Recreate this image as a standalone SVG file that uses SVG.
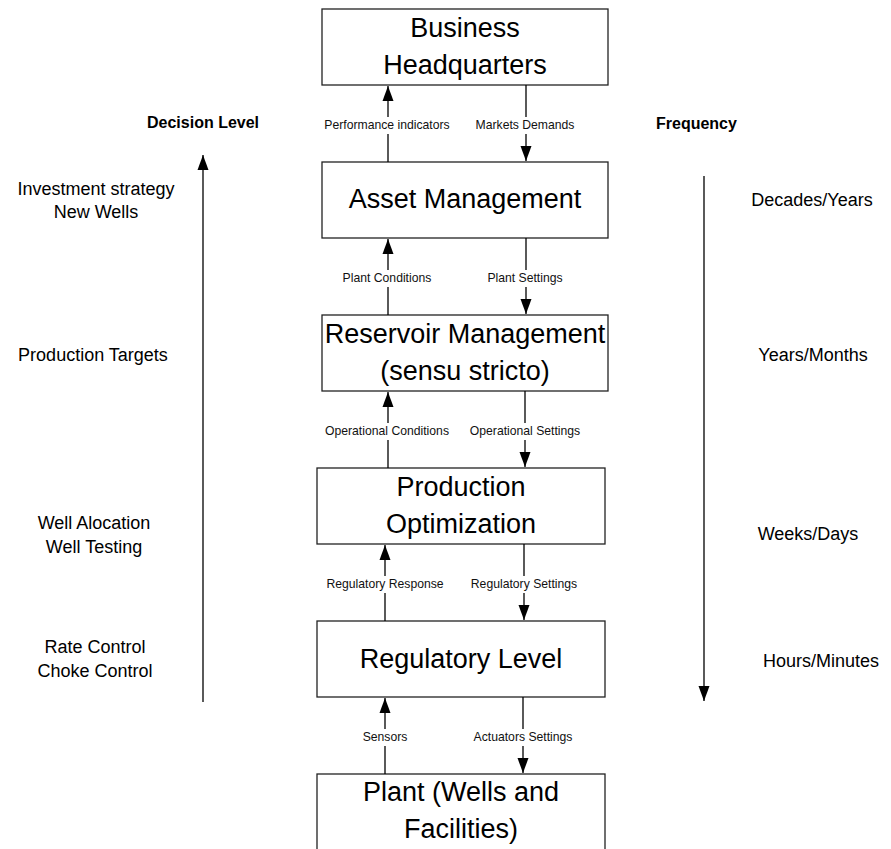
<svg xmlns="http://www.w3.org/2000/svg" width="891" height="849" viewBox="0 0 891 849">
  <defs>
    <marker id="head" markerUnits="userSpaceOnUse" markerWidth="15" markerHeight="12" refX="15" refY="6" orient="auto">
      <path d="M0,0.5 L15,6 L0,11.5 z" fill="#000"/>
    </marker>
    <style>
      .box { fill: #fff; stroke: #222; stroke-width: 1.3; }
      .big { font-family: "Liberation Sans", Arial, sans-serif; font-size: 27px; fill: #000; text-anchor: middle; }
      .lbl { font-family: "Liberation Sans", Arial, sans-serif; font-size: 12.2px; fill: #111; text-anchor: middle; }
      .side { font-family: "Liberation Sans", Arial, sans-serif; font-size: 18px; fill: #000; text-anchor: middle; }
      .head { font-family: "Liberation Sans", Arial, sans-serif; font-size: 16px; font-weight: bold; fill: #000; }
      .wire { stroke: #000; stroke-width: 1.3; fill: none; }
      .arw { stroke: #000; stroke-width: 1.3; fill: none; marker-end: url(#head); }
    </style>
  </defs>

  <rect width="891" height="849" fill="#fff"/>

  <!-- level boxes -->
  <g id="hq">
    <rect class="box" x="322" y="9" width="286" height="76"/>
    <text class="big" x="465" y="37">Business</text>
    <text class="big" x="465" y="74">Headquarters</text>
  </g>
  <g id="asset">
    <rect class="box" x="322" y="162" width="286" height="76"/>
    <text class="big" x="465" y="208">Asset Management</text>
  </g>
  <g id="reservoir">
    <rect class="box" x="322" y="315" width="286" height="76"/>
    <text class="big" x="465" y="343">Reservoir Management</text>
    <text class="big" x="465" y="380">(sensu stricto)</text>
  </g>
  <g id="production">
    <rect class="box" x="317" y="468" width="288" height="76"/>
    <text class="big" x="461" y="496">Production</text>
    <text class="big" x="461" y="533">Optimization</text>
  </g>
  <g id="regulatory">
    <rect class="box" x="317" y="621" width="288" height="76"/>
    <text class="big" x="461" y="668">Regulatory Level</text>
  </g>
  <g id="plant">
    <rect class="box" x="317" y="774" width="288" height="90"/>
    <text class="big" x="461" y="801">Plant (Wells and</text>
    <text class="big" x="461" y="838">Facilities)</text>
  </g>

  <!-- connectors between levels -->
  <g id="connectors">
    <line class="arw" x1="388" y1="117" x2="388" y2="86"/>
    <line class="wire" x1="388" y1="134" x2="388" y2="162"/>
    <line class="wire" x1="526" y1="85" x2="526" y2="117"/>
    <line class="arw" x1="526" y1="134" x2="526" y2="161"/>

    <line class="arw" x1="388" y1="270" x2="388" y2="239"/>
    <line class="wire" x1="388" y1="287" x2="388" y2="315"/>
    <line class="wire" x1="526" y1="238" x2="526" y2="270"/>
    <line class="arw" x1="526" y1="287" x2="526" y2="314"/>

    <line class="arw" x1="388" y1="423" x2="388" y2="392"/>
    <line class="wire" x1="388" y1="440" x2="388" y2="468"/>
    <line class="wire" x1="525" y1="391" x2="525" y2="423"/>
    <line class="arw" x1="525" y1="440" x2="525" y2="467"/>

    <line class="arw" x1="385" y1="576" x2="385" y2="545"/>
    <line class="wire" x1="385" y1="593" x2="385" y2="621"/>
    <line class="wire" x1="524" y1="544" x2="524" y2="576"/>
    <line class="arw" x1="524" y1="593" x2="524" y2="620"/>

    <line class="arw" x1="385" y1="729" x2="385" y2="698"/>
    <line class="wire" x1="385" y1="746" x2="385" y2="774"/>
    <line class="wire" x1="523" y1="697" x2="523" y2="729"/>
    <line class="arw" x1="523" y1="746" x2="523" y2="773"/>

    <!-- side axes -->
    <line class="arw" x1="203" y1="702" x2="203" y2="155"/>
    <line class="arw" x1="704" y1="176" x2="704" y2="701"/>
  </g>

  <!-- connector labels -->
  <g id="flow-labels">
    <text class="lbl" x="387" y="129">Performance indicators</text>
    <text class="lbl" x="525" y="129">Markets Demands</text>
    <text class="lbl" x="387" y="282">Plant Conditions</text>
    <text class="lbl" x="525" y="282">Plant Settings</text>
    <text class="lbl" x="387" y="435">Operational Conditions</text>
    <text class="lbl" x="525" y="435">Operational Settings</text>
    <text class="lbl" x="385" y="588">Regulatory Response</text>
    <text class="lbl" x="524" y="588">Regulatory Settings</text>
    <text class="lbl" x="385" y="741">Sensors</text>
    <text class="lbl" x="523" y="741">Actuators Settings</text>
  </g>

  <!-- decision level column -->
  <g id="decision">
    <text class="head" x="147" y="128">Decision Level</text>
    <text class="side" x="96" y="195">Investment strategy</text>
    <text class="side" x="96" y="218">New Wells</text>
    <text class="side" x="93" y="361">Production Targets</text>
    <text class="side" x="94" y="529">Well Alocation</text>
    <text class="side" x="94" y="553">Well Testing</text>
    <text class="side" x="95" y="653">Rate Control</text>
    <text class="side" x="95" y="677">Choke Control</text>
  </g>

  <!-- frequency column -->
  <g id="frequency">
    <text class="head" x="656" y="129">Frequency</text>
    <text class="side" x="812" y="206">Decades/Years</text>
    <text class="side" x="813" y="361">Years/Months</text>
    <text class="side" x="808" y="540">Weeks/Days</text>
    <text class="side" x="821" y="667">Hours/Minutes</text>
  </g>
</svg>
